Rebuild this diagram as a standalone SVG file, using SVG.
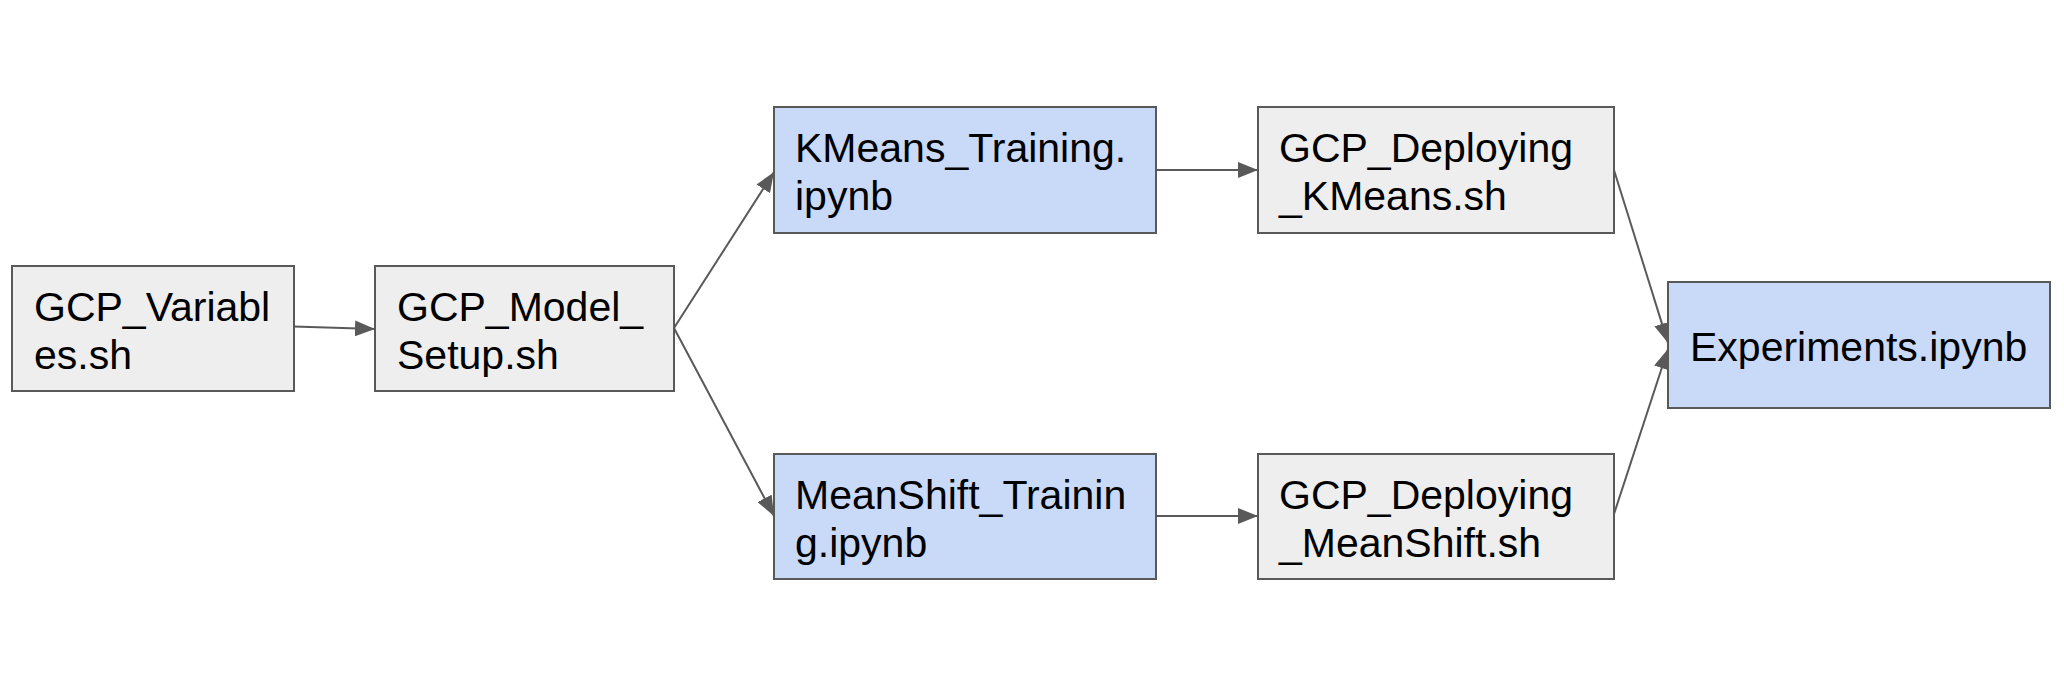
<svg xmlns="http://www.w3.org/2000/svg" width="2064" height="698" viewBox="0 0 2064 698">
<style>
.gray{fill:#eeeeee;stroke:#595959;stroke-width:2}
.blue{fill:#c9daf8;stroke:#595959;stroke-width:2}
text{font-family:"Liberation Sans",Arial,sans-serif;font-size:41px;fill:#000}
.conn line{stroke:#595959;stroke-width:2;fill:none;marker-end:url(#arr)}
</style>
<defs>
<marker id="arr" markerUnits="userSpaceOnUse" viewBox="0 0 20 16" refX="20" refY="8" markerWidth="20" markerHeight="16" orient="auto">
<path d="M0,0 L20,8 L0,16 Z" fill="#595959"/>
</marker>
</defs>
<rect width="2064" height="698" fill="#ffffff"/>
<g class="conn" id="connectors">
<line x1="293.5" y1="326.5" x2="375" y2="329"/>
<line x1="674" y1="328" x2="774" y2="172"/>
<line x1="674" y1="328" x2="774" y2="516"/>
<line x1="1156" y1="170" x2="1258" y2="170"/>
<line x1="1156" y1="516" x2="1258" y2="516"/>
<line x1="1614" y1="170" x2="1668" y2="343"/>
<line x1="1614" y1="514" x2="1668" y2="349"/>
</g>
<g id="node-gcp-variables">
<rect class="gray" x="12" y="266" width="282" height="125"/>
<text x="34" y="321">GCP_Variabl</text>
<text x="34" y="369">es.sh</text>
</g>
<g id="node-gcp-model-setup">
<rect class="gray" x="375" y="266" width="299" height="125"/>
<text x="397" y="321">GCP_Model_</text>
<text x="397" y="369">Setup.sh</text>
</g>
<g id="node-kmeans-training">
<rect class="blue" x="774" y="107" width="382" height="126"/>
<text x="795" y="162">KMeans_Training.</text>
<text x="795" y="210">ipynb</text>
</g>
<g id="node-deploy-kmeans">
<rect class="gray" x="1258" y="107" width="356" height="126"/>
<text x="1279" y="162">GCP_Deploying</text>
<text x="1279" y="210">_KMeans.sh</text>
</g>
<g id="node-meanshift-training">
<rect class="blue" x="774" y="454" width="382" height="125"/>
<text x="795" y="509">MeanShift_Trainin</text>
<text x="795" y="557">g.ipynb</text>
</g>
<g id="node-deploy-meanshift">
<rect class="gray" x="1258" y="454" width="356" height="125"/>
<text x="1279" y="509">GCP_Deploying</text>
<text x="1279" y="557">_MeanShift.sh</text>
</g>
<g id="node-experiments">
<rect class="blue" x="1668" y="282" width="382" height="126"/>
<text x="1690" y="361">Experiments.ipynb</text>
</g>
</svg>
